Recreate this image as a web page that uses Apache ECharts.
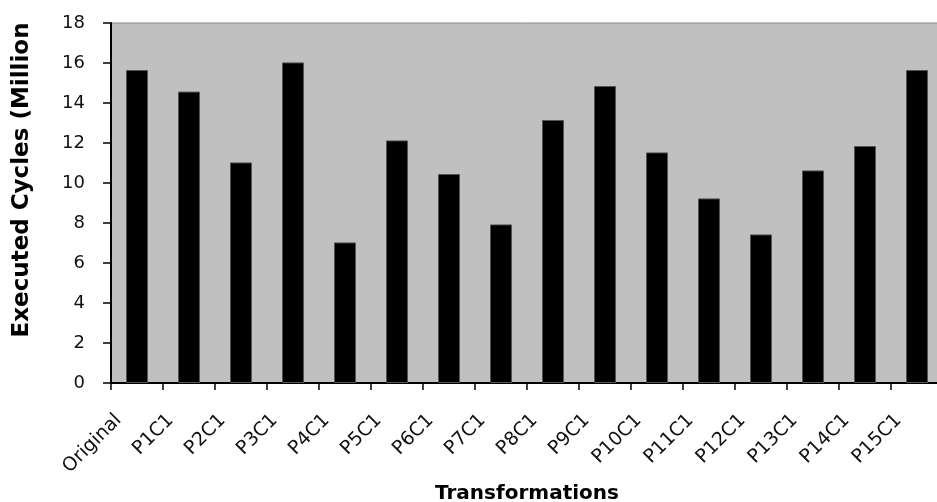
<!DOCTYPE html>
<html>
<head>
<meta charset="utf-8">
<script src="https://cdn.jsdelivr.net/npm/echarts@6/dist/echarts.min.js"></script>
<style>html,body{margin:0;padding:0;background:#fff;}#c{width:937px;height:502px;}</style>
</head>
<body>
<div id="c"></div>
<script>
var categories = ['Original','P1C1','P2C1','P3C1','P4C1','P5C1','P6C1','P7C1','P8C1','P9C1','P10C1','P11C1','P12C1','P13C1','P14C1','P15C1'];
var cycles = [15.65, 14.57, 11.03, 16.03, 7.03, 12.13, 10.45, 7.93, 13.15, 14.85, 11.53, 9.23, 7.43, 10.63, 11.85, 15.65];
var yTicks = {min: 0, max: 18, interval: 2};
var xTitle = 'Transformations';
var yTitle = 'Executed Cycles (Million';

var chart = echarts.init(document.getElementById('c'), null, {renderer: 'canvas'});
chart.setOption({
  animation: false,
  backgroundColor: '#ffffff',
  grid: {
    left: 111, top: 23, bottom: 119, right: -6,
    containLabel: false,
    outerBoundsMode: 'none',
    show: true, backgroundColor: '#C0C0C0', borderColor: '#888888', borderWidth: 1
  },
  xAxis: {
    type: 'category',
    data: categories,
    boundaryGap: true,
    name: xTitle,
    nameLocation: 'middle',
    nameGap: 101,
    nameTextStyle: {fontFamily: 'DejaVu Sans', fontWeight: 'bold', fontSize: 20, color: '#000'},
    axisLine: {lineStyle: {color: '#000', width: 2}},
    axisTick: {show: true, alignWithLabel: false, length: 7, lineStyle: {color: '#000', width: 1.5}},
    axisLabel: {
      interval: 0, rotate: 45, margin: 16, padding: [0, 26, 0, 0],
      fontFamily: 'DejaVu Sans', fontSize: 19, color: '#111'
    },
    splitLine: {show: false}
  },
  yAxis: {
    type: 'value',
    min: yTicks.min, max: yTicks.max, interval: yTicks.interval,
    axisLine: {show: true, lineStyle: {color: '#000', width: 2}},
    axisTick: {show: true, length: 8, lineStyle: {color: '#000', width: 1.5}},
    axisLabel: {margin: 26, fontFamily: 'DejaVu Sans', fontSize: 18, color: '#111'},
    splitLine: {show: false}
  },
  graphic: [{
    type: 'text',
    x: 22, y: 180,
    rotation: Math.PI / 2,
    style: {
      text: yTitle, fontFamily: 'DejaVu Sans', fontWeight: 'bold', fontSize: 23,
      fill: '#000', align: 'center', verticalAlign: 'middle'
    }
  }],
  series: [{
    type: 'bar',
    data: cycles,
    barWidth: 22,
    itemStyle: {color: '#000000', borderColor: '#555555', borderWidth: 1}
  }]
});
</script>
</body>
</html>
